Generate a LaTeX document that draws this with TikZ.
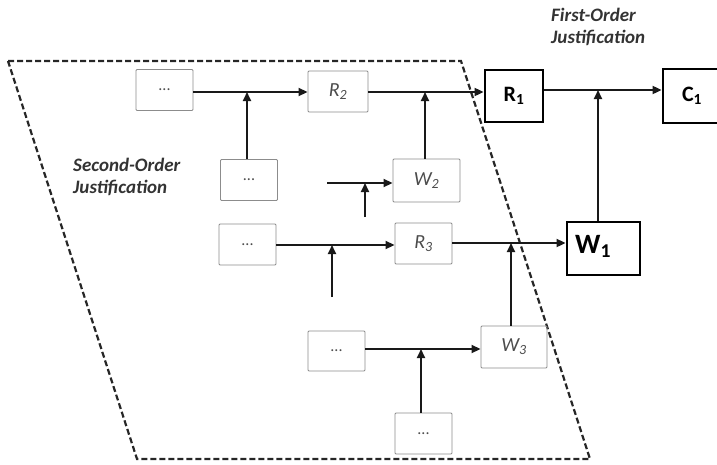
\documentclass[tikz,border=0pt]{standalone}
\usepackage{fontspec}
\setmainfont{Carlito}
\usetikzlibrary{arrows.meta}
\begin{document}
\begin{tikzpicture}[x=1pt,y=-1pt,
  inner/.style={draw=black!45, line width=0.9pt, rounded corners=1pt, minimum width=57pt, minimum height=41pt, inner sep=0pt, text=black!70},
  outer/.style={draw=black, line width=2.8pt, inner sep=0pt},
  arr/.style={draw=black!90, line width=1.8pt, -{Triangle[length=9pt,width=8pt]}},
  tag/.style={font=\fontsize{19}{22}\selectfont\bfseries\itshape, text=black!80, align=left, anchor=north west, inner sep=0pt},
  dots/.style={font=\fontsize{16}{16}\selectfont},
  ilabel/.style={font=\fontsize{20}{20}\selectfont\itshape}]
\useasboundingbox (0,0) rectangle (717,464);

% region of second-order justification
\draw[line width=2.2pt, dash pattern=on 6pt off 3pt, black!85]
  (8,61) -- (461,61) -- (590,459) -- (137,459) -- cycle;

\node[tag] (so) at (73,158) {Second-Order\\Justification};
\node[tag] (fo) at (551,8) {First-Order\\Justification};

% inner boxes
\node[inner, dots] (d1) at (164.5,90) {...};
\node[inner, minimum width=60pt, ilabel] (R2) at (338,91.5) {R\textsubscript{2}};
\node[inner, dots] (d2) at (249,180) {...};
\node[inner, minimum width=67pt, minimum height=43pt, ilabel] (W2) at (426.5,180.5) {W\textsubscript{2}};
\node[inner, dots] (d3) at (247.5,244.5) {...};
\node[inner, ilabel] (R3) at (423.5,243.5) {R\textsubscript{3}};
\node[inner, dots, minimum height=40pt] (d4) at (336.5,351) {...};
\node[inner, minimum width=66pt, minimum height=42pt, ilabel] (W3) at (514,347) {W\textsubscript{3}};
\node[inner, dots] (d5) at (423.5,433.5) {...};

% first-order boxes
\node[outer, minimum width=58pt, minimum height=52pt] (R1) at (514,96) {\fontsize{22}{22}\selectfont\bfseries R\textsubscript{1}};
\node[outer, minimum width=58pt, minimum height=54pt] (C1) at (692,96) {\fontsize{22}{22}\selectfont\bfseries C\textsubscript{1}};
\node[outer, minimum width=73pt, minimum height=53pt] (W1) at (603.5,248.5) {};
\node[anchor=west, inner sep=0pt] (W1t) at (575,246) {\fontsize{28}{28}\selectfont\bfseries W\textsubscript{1}};

% junction points
\coordinate (j1) at (247,92);
\coordinate (j2) at (425,92);
\coordinate (j3) at (598,90);
\coordinate (j4) at (365,183);
\coordinate (j5) at (332,245);
\coordinate (j6) at (511,243);
\coordinate (j7) at (421,349);
\coordinate (s1) at (327,183);
\coordinate (s2) at (365,217);
\coordinate (s3) at (332,297);

% connectors
\draw[arr] (d1.east |- j1) -- (R2.west |- j1);
\draw[arr] (d2.north -| j1) -- (j1);
\draw[arr] (R2.east |- j2) -- (R1.west |- j2);
\draw[arr] (W2.north -| j2) -- (j2);
\draw[arr] (R1.east |- j3) -- (C1.west |- j3);
\draw[arr] (W1.north -| j3) -- (j3);
\draw[arr] (s1) -- (W2.west |- s1);
\draw[arr] (s2) -- (j4);
\draw[arr] (d3.east |- j5) -- (R3.west |- j5);
\draw[arr] (s3) -- (j5);
\draw[arr] (R3.east |- j6) -- (W1.west |- j6);
\draw[arr] (W3.north -| j6) -- (j6);
\draw[arr] (d4.east |- j7) -- (W3.west |- j7);
\draw[arr] (d5.north -| j7) -- (j7);
\end{tikzpicture}
\end{document}
